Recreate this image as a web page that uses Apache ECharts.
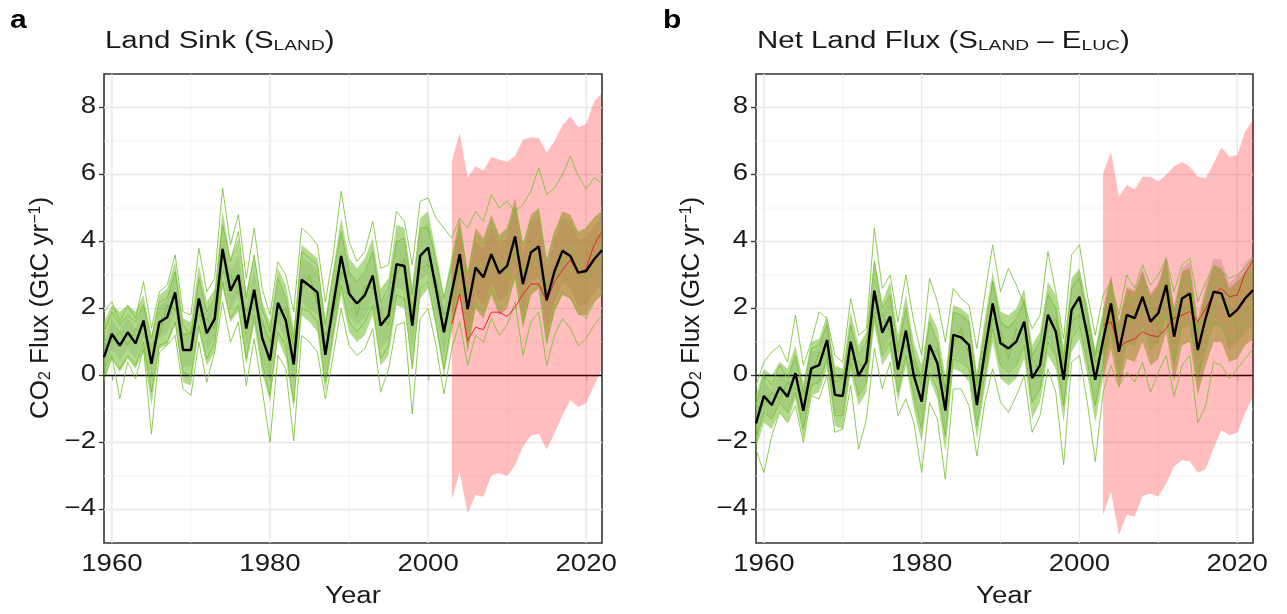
<!DOCTYPE html>
<html>
<head>
<meta charset="utf-8">
<script src="https://cdn.jsdelivr.net/npm/echarts@6.0.0/dist/echarts.min.js"></script>
<style>
  html, body { margin: 0; padding: 0; background: #fff; }
  #chart { width: 1287px; height: 614px; }
</style>
</head>
<body>
<div id="chart"></div>
<script>
// years 1959-2022
const years = Array.from({ length: 64 }, (_, i) => 1959 + i);
// period covered by the red band
const recentYears = Array.from({ length: 20 }, (_, i) => 2003 + i);

const xTicks = [1960, 1980, 2000, 2020];
const xMinor = [1970, 1990, 2010];
const yTicks = [-4, -2, 0, 2, 4, 6, 8];
const yMinor = [-3, -1, 1, 3, 5, 7];

// ---- panel a: land sink ----
const meanA = [0.55, 1.24, 0.89, 1.29, 0.96, 1.64, 0.35, 1.59, 1.74, 2.48,
  0.76, 0.76, 2.30, 1.26, 1.69, 3.78, 2.53, 3.00, 1.40, 2.56,
  1.13, 0.45, 2.17, 1.64, 0.33, 2.86, 2.68, 2.48, 0.62, 2.10,
  3.57, 2.44, 2.15, 2.40, 2.98, 1.49, 1.79, 3.32, 3.27, 1.49,
  3.57, 3.82, 2.60, 1.29, 2.50, 3.62, 1.98, 3.22, 2.93, 3.62,
  3.05, 3.27, 4.15, 2.73, 3.67, 3.85, 2.25, 3.12, 3.72, 3.57,
  3.07, 3.12, 3.47, 3.74];
const sdA = [0.45, 0.45, 0.45, 0.45, 0.45, 0.5, 0.5, 0.5, 0.5, 0.55,
  0.5, 0.5, 0.55, 0.55, 0.55, 0.65, 0.6, 0.6, 0.6, 0.6,
  0.6, 0.65, 0.6, 0.6, 0.65, 0.65, 0.7, 0.65, 0.6, 0.65,
  0.7, 0.65, 0.65, 0.65, 0.7, 0.7, 0.7, 0.7, 0.75, 0.75,
  0.75, 0.75, 0.75, 0.75, 0.8, 0.8, 0.8, 0.8, 0.85, 0.85,
  0.85, 0.85, 0.9, 0.9, 0.9, 0.9, 0.95, 0.95, 0.95, 1.0,
  1.0, 1.0, 1.0, 1.05];
const greenHiA = [1.6, 2.1, 1.9, 2.1, 1.9, 2.4, 1.2, 2.4, 2.6, 3.4,
  1.7, 1.6, 3.3, 2.2, 2.6, 4.9, 3.5, 4.1, 2.5, 3.6,
  2.2, 1.6, 3.2, 2.7, 1.4, 3.9, 3.7, 3.5, 1.7, 3.2,
  4.7, 3.5, 3.2, 3.5, 4.1, 2.6, 2.9, 4.5, 4.4, 2.7,
  4.7, 4.9, 3.7, 2.4, 3.6, 4.7, 3.1, 4.4, 4.1, 4.8,
  4.2, 4.4, 5.3, 3.9, 4.8, 5.0, 3.4, 4.3, 4.9, 4.8,
  4.3, 4.4, 4.7, 4.9];
const greenLoA = [-0.2, 0.5, 0.1, 0.5, 0.2, 0.7, -0.9, 0.8, 0.9, 1.5,
  -0.2, -0.3, 1.3, 0.3, 0.7, 2.6, 1.6, 1.9, 0.3, 1.5,
  0.1, -0.8, 1.1, 0.5, -1.0, 1.8, 1.6, 1.3, -0.5, 1.0,
  2.4, 1.3, 1.0, 1.2, 1.8, 0.3, 0.6, 2.1, 2.0, 0.2,
  2.3, 2.6, 1.4, 0.0, 1.3, 2.4, 0.7, 2.0, 1.7, 2.4,
  1.8, 2.0, 2.9, 1.4, 2.4, 2.6, 0.9, 1.9, 2.4, 2.3,
  1.8, 1.8, 2.2, 2.4];
const modelA1 = [1.9, 2.2, 1.6, 2.1, 1.7, 2.8, 1.4, 2.5, 2.7, 3.6,
  1.9, 1.8, 3.8, 2.5, 2.9, 5.6, 3.9, 4.8, 2.9, 4.4,
  2.6, 1.8, 3.4, 3.0, 1.9, 4.4, 4.2, 3.9, 2.2, 3.6,
  5.5, 4.0, 3.4, 3.7, 4.6, 3.2, 3.3, 4.9, 4.6, 3.3,
  5.2, 5.3, 4.7, 4.4, 4.1, 4.7, 4.4, 4.9, 4.6, 5.4,
  5.0, 5.2, 4.9, 5.1, 5.5, 6.2, 5.4, 5.6, 6.0, 6.55,
  5.95, 5.57, 5.9, 5.75];
const modelA2 = [0.2, 0.6, -0.7, 0.4, -0.1, 0.8, -1.75, 0.7, 0.9, 1.2,
  -0.4, -0.6, 1.0, -0.2, 0.7, 2.2, 1.0, 1.6, -0.3, 1.1,
  -0.4, -2.0, 0.6, 0.2, -1.95, 1.2, 1.0, 0.7, -0.7, 0.6,
  2.0, 0.9, 0.6, 0.8, 1.4, -0.5, 0.2, 1.5, 1.6, -1.15,
  1.7, 2.0, 0.9, -0.55, 0.8, 1.6, 0.3, 1.2, 1.0, 1.7,
  1.2, 1.5, 2.2, 0.6, 1.6, 1.9, 0.3, 1.2, 1.7, 1.4,
  0.9, 1.1, 1.5, 1.8];
const modelA3 = [1.3, 1.9, 1.5, 1.8, 1.6, 2.1, 1.1, 2.2, 2.3, 3.1,
  1.5, 1.2, 2.9, 1.9, 2.3, 4.5, 3.4, 4.3, 2.3, 3.6,
  2.0, 1.3, 2.9, 2.3, 1.1, 3.7, 3.5, 3.3, 1.5, 3.0,
  4.3, 3.1, 2.8, 3.1, 3.7, 2.2, 2.6, 4.0, 4.1, 2.4,
  4.4, 4.4, 3.4, 2.3, 3.3, 4.4, 3.0, 4.2, 3.9, 4.6,
  4.0, 4.3, 5.0, 3.9, 4.6, 4.9, 3.4, 4.3, 4.7, 4.6,
  4.2, 4.4, 4.7, 4.9];
const modelA4 = [0.0, 0.5, 0.2, 0.6, 0.3, 1.0, -0.5, 0.9, 1.0, 1.6,
  0.1, 0.0, 1.5, 0.5, 1.0, 2.8, 1.7, 2.1, 0.5, 1.8,
  0.4, -0.6, 1.3, 0.9, -0.8, 2.0, 1.9, 1.6, -0.2, 1.3,
  2.7, 1.6, 1.3, 1.6, 2.1, 0.5, 0.9, 2.4, 2.3, 0.2,
  2.6, 2.8, 1.6, 0.2, 1.6, 2.6, 0.9, 2.2, 1.9, 2.6,
  2.0, 2.2, 3.0, 1.6, 2.5, 2.7, 1.0, 2.0, 2.5, 2.3,
  1.9, 1.7, 2.2, 2.5];
const modelA5 = [0.9, 1.0, 1.3, 0.9, 1.4, 1.2, 0.9, 1.2, 2.1, 2.0,
  1.2, 1.3, 1.8, 1.7, 1.4, 3.1, 3.0, 2.5, 1.9, 2.2,
  1.6, 1.0, 1.8, 2.0, 0.9, 2.5, 3.0, 2.1, 1.2, 1.7,
  3.1, 2.7, 1.8, 2.7, 2.6, 1.9, 1.5, 3.0, 3.5, 1.9,
  3.2, 3.3, 2.9, 1.8, 2.2, 3.2, 2.5, 2.9, 3.3, 3.2,
  3.4, 2.9, 3.7, 3.1, 3.3, 3.5, 2.7, 2.8, 3.4, 3.9,
  3.4, 2.9, 3.2, 3.5];
const redHiA = [6.4, 7.24, 5.9, 6.25, 6.12, 6.52, 6.45, 6.38, 6.55, 7.04,
  7.11, 7.09, 6.65, 7.0, 7.47, 7.74, 7.41, 7.51, 8.18, 8.43];
const redLoA = [-3.7, -2.88, -4.12, -3.57, -3.62, -2.98, -2.92, -3.0, -2.68, -2.13,
  -1.79, -1.74, -2.21, -1.72, -1.19, -0.74, -0.94, -0.82, -0.3, 0.2];
const redLineA = [1.55, 2.43, 1.04, 1.44, 1.37, 1.89, 1.89, 1.76, 2.03, 2.43,
  2.73, 2.73, 2.23, 2.8, 3.15, 3.45, 3.05, 3.2, 3.9, 4.3];

// ---- panel b: net land flux ----
const meanB = [-1.43, -0.61, -0.88, -0.35, -0.63, 0.07, -1.05, 0.21, 0.31, 1.06,
  -0.58, -0.61, 1.01, -0.01, 0.41, 2.53, 1.28, 1.76, 0.18, 1.34,
  0.00, -0.78, 0.91, 0.36, -1.05, 1.21, 1.14, 0.91, -0.88, 0.70,
  2.15, 0.96, 0.81, 1.01, 1.61, -0.08, 0.31, 1.81, 1.31, -0.13,
  1.96, 2.35, 1.20, -0.13, 1.06, 2.15, 0.71, 1.81, 1.71, 2.35,
  1.61, 1.86, 2.70, 1.16, 2.30, 2.45, 0.76, 1.71, 2.50, 2.45,
  1.76, 1.96, 2.30, 2.55];
const sdB = [0.5, 0.45, 0.45, 0.45, 0.45, 0.5, 0.5, 0.5, 0.5, 0.55,
  0.55, 0.55, 0.55, 0.55, 0.55, 0.7, 0.6, 0.6, 0.6, 0.6,
  0.6, 0.65, 0.65, 0.6, 0.65, 0.65, 0.7, 0.7, 0.6, 0.65,
  0.7, 0.65, 0.65, 0.65, 0.7, 0.7, 0.7, 0.7, 0.75, 0.75,
  0.75, 0.75, 0.75, 0.75, 0.8, 0.8, 0.8, 0.85, 0.85, 0.85,
  0.85, 0.9, 0.9, 0.9, 0.9, 0.95, 0.95, 1.0, 1.0, 1.0,
  1.0, 1.0, 1.05, 1.05];
const greenHiB = [-0.6, 0.2, 0.0, 0.4, 0.2, 0.9, -0.2, 1.0, 1.1, 1.8,
  0.3, 0.2, 1.9, 0.9, 1.3, 3.5, 2.2, 2.8, 1.2, 2.4,
  1.0, 0.3, 1.9, 1.4, 0.0, 2.1, 2.0, 1.8, 0.1, 1.7,
  3.1, 1.9, 1.8, 2.0, 2.6, 0.9, 1.3, 2.8, 2.4, 0.9,
  2.9, 3.2, 2.1, 0.8, 2.0, 3.0, 1.6, 2.6, 2.5, 3.1,
  2.4, 2.7, 3.5, 2.0, 3.1, 3.2, 1.6, 2.5, 3.3, 3.2,
  2.6, 2.8, 3.1, 3.4];
const greenLoB = [-2.2, -1.4, -1.6, -1.1, -1.4, -0.7, -1.9, -0.6, -0.5, 0.2,
  -1.5, -1.6, 0.1, -0.9, -0.5, 1.5, 0.3, 0.7, -0.8, 0.3,
  -1.0, -2.0, -0.1, -0.7, -2.3, 0.2, 0.1, -0.2, -1.9, -0.4,
  1.0, -0.1, -0.3, -0.1, 0.5, -1.3, -0.8, 0.6, 0.2, -1.4,
  0.7, 1.1, 0.0, -1.4, -0.1, 0.8, -0.4, 0.5, 0.4, 1.0,
  0.3, 0.5, 1.3, -0.2, 0.9, 1.0, -0.6, 0.3, 1.0, 1.0,
  0.4, 0.5, 0.9, 1.1];
const modelB1 = [-0.3, 0.4, 0.7, 0.9, 0.4, 1.8, 0.3, 1.0, 1.9, 1.7,
  0.6, 0.4, 2.3, 1.2, 1.4, 4.4, 2.6, 3.0, 1.6, 3.0,
  1.6, 0.6, 2.9, 2.2, 1.0, 2.6, 2.3, 2.1, 0.8, 2.4,
  3.9, 2.5, 3.2, 2.7, 2.1, 1.4, 1.8, 3.7, 2.5, 1.1,
  3.6, 3.9, 2.4, 1.2, 2.4, 2.8, 1.8, 3.0, 2.6, 3.3,
  2.7, 3.0, 3.5, 2.5, 3.3, 3.5, 2.2, 2.8, 3.2, 3.1,
  2.9, 3.0, 3.2, 3.5];
const modelB2 = [-2.2, -2.9, -1.8, -1.1, -1.4, -0.9, -2.0, -0.6, -0.7, 0.0,
  -1.7, -1.6, -0.3, -2.2, -1.3, 0.8, -0.4, 0.4, -1.2, -0.7,
  -1.4, -2.9, -0.8, -1.3, -3.1, -0.4, -0.4, -0.9, -2.4, -0.8,
  0.2, -0.8, -1.1, -0.6, 0.0, -1.7, -1.2, 0.2, -0.5, -2.67,
  0.4, 0.6, -0.8, -2.57, -0.5, 0.3, -0.33, 0.1, -0.2, 0.4,
  -0.5, 0.1, 0.6, -0.63, 0.3, 0.6, -1.42, -0.9, 0.4, 0.3,
  -0.1, 0.2, 0.5, 0.8];
const modelB3 = [-0.9, 0.0, -0.3, 0.3, -0.1, 0.6, -0.5, 0.8, 0.9, 1.5,
  0.0, -0.1, 1.5, 0.6, 1.0, 3.4, 2.0, 2.4, 0.8, 2.0,
  0.6, -0.1, 1.6, 1.0, -0.4, 1.9, 1.8, 1.6, -0.2, 1.3,
  2.8, 1.6, 1.4, 1.7, 2.2, 0.6, 1.0, 2.4, 2.0, 0.5,
  2.6, 2.9, 1.8, 0.6, 1.7, 2.6, 1.3, 2.3, 2.2, 2.8,
  2.1, 2.4, 3.1, 1.7, 2.8, 2.9, 1.3, 2.2, 2.9, 2.8,
  2.3, 2.5, 2.8, 3.1];
const modelB4 = [-1.9, -1.1, -1.3, -0.8, -1.1, -0.5, -1.6, -0.3, -0.2, 0.5,
  -1.2, -1.2, 0.4, -0.6, -0.2, 1.8, 0.6, 1.0, -0.5, 0.6,
  -0.6, -1.6, 0.1, -0.4, -1.8, 0.5, 0.4, 0.2, -1.5, 0.0,
  1.4, 0.3, 0.1, 0.3, 0.9, -0.8, -0.4, 1.0, 0.6, -0.9,
  1.1, 1.5, 0.4, -0.9, 0.3, 1.3, 0.0, 1.0, 0.9, 1.5,
  0.8, 1.1, 1.8, 0.4, 1.5, 1.6, 0.0, 0.9, 1.6, 1.5,
  1.0, 1.2, 1.5, 1.8];
const modelB5 = [-1.0, -0.9, -0.5, -0.7, -0.2, -0.4, -0.6, 0.0, 0.7, 0.6,
  -0.2, -0.1, 0.5, 0.4, 0.1, 1.9, 1.8, 1.3, 0.7, 0.9,
  0.4, -0.3, 0.5, 0.8, -0.5, 0.9, 1.4, 0.6, -0.3, 0.3,
  1.7, 1.3, 0.5, 1.4, 1.2, 0.5, 0.1, 1.5, 1.7, 0.3,
  1.6, 1.8, 1.5, 0.4, 0.7, 1.7, 1.2, 1.4, 2.0, 1.9,
  2.0, 1.5, 2.3, 1.6, 1.9, 2.1, 1.2, 1.3, 2.0, 2.4,
  2.0, 1.5, 1.9, 2.2];
const redHiB = [6.04, 6.68, 5.34, 5.69, 5.56, 5.93, 5.93, 5.79, 5.99, 6.25,
  6.38, 6.23, 5.93, 5.89, 6.33, 6.81, 6.53, 6.58, 7.28, 7.63];
const redLoB = [-4.16, -3.47, -4.76, -4.16, -4.21, -3.6, -3.52, -3.62, -3.22, -2.72,
  -2.52, -2.57, -2.9, -2.8, -2.17, -1.63, -1.78, -1.71, -1.13, -0.63];
const redLineB = [1.5, 1.6, 0.86, 1.0, 1.1, 1.3, 1.2, 1.16, 1.41, 1.71,
  1.8, 1.91, 1.61, 2.0, 2.45, 2.6, 2.35, 2.4, 3.05, 3.45];

const FONT = 'Liberation Sans';
const TXT = '#1a1a1a';
const SX = 1.2; // the source figure's text is drawn wider than the font's own metrics
const Y_MIN = -5, Y_MAX = 9, X_MIN = 1959, X_MAX = 2022;

const GREEN_LINE = 'rgba(118,190,48,0.9)';
const GREEN_FILL = 'rgba(122,192,58,0.58)';
const GRAY_FILL = 'rgba(150,150,150,0.3)';
const PINK_FILL = 'rgba(255,0,0,0.26)';
const RED_LINE = '#e3262b';

// background grid lines (theme_bw style)
function gridLines(i) {
  return {
    type: 'custom', xAxisIndex: i, yAxisIndex: i, silent: true,
    data: [[X_MIN, 0]],
    renderItem(params, api) {
      const kids = [];
      const seg = (a, b, w, c) => kids.push({
        type: 'line', shape: { x1: a[0], y1: a[1], x2: b[0], y2: b[1] },
        style: { stroke: c, lineWidth: w }
      });
      xMinor.forEach(v => seg(api.coord([v, Y_MIN]), api.coord([v, Y_MAX]), 0.8, '#f1f1f1'));
      yMinor.forEach(v => seg(api.coord([X_MIN, v]), api.coord([X_MAX, v]), 0.8, '#f1f1f1'));
      xTicks.forEach(v => seg(api.coord([v, Y_MIN]), api.coord([v, Y_MAX]), 1.4, '#e8e8e8'));
      yTicks.forEach(v => seg(api.coord([X_MIN, v]), api.coord([X_MAX, v]), 1.4, '#e8e8e8'));
      return { type: 'group', children: kids };
    }
  };
}

// tick labels, placed through the axes' own scales
function tickLabels(i) {
  const fmt = v => (v < 0 ? '\u2212' + Math.abs(v) : String(v));
  const txt = (x, y, s, align, va) => ({
    type: 'text', x: x, y: y, scaleX: SX,
    style: { text: s, x: 0, y: 0, fontSize: 23, fontFamily: FONT, fill: TXT,
      align: align, verticalAlign: va, textAlign: align, textVerticalAlign: va }
  });
  return {
    type: 'custom', xAxisIndex: i, yAxisIndex: i, silent: true, clip: false,
    data: [[X_MIN, 0]],
    renderItem(params, api) {
      const kids = [];
      xTicks.forEach(v => { const p = api.coord([v, Y_MIN]); kids.push(txt(p[0], p[1] + 10, String(v), 'center', 'top')); });
      yTicks.forEach(v => { const p = api.coord([X_MIN, v]); kids.push(txt(p[0] - 8, p[1] - 1, fmt(v), 'right', 'middle')); });
      return { type: 'group', children: kids };
    }
  };
}

function zeroLine(i) {
  return {
    type: 'custom', xAxisIndex: i, yAxisIndex: i, silent: true,
    data: [[X_MIN, 0]],
    renderItem(params, api) {
      const a = api.coord([X_MIN, 0]), b = api.coord([X_MAX, 0]);
      return { type: 'line', shape: { x1: a[0], y1: a[1], x2: b[0], y2: b[1] },
        style: { stroke: '#000', lineWidth: 1.6 } };
    }
  };
}

function band(i, xs, lo, hi, fill) {
  return {
    type: 'custom', xAxisIndex: i, yAxisIndex: i, silent: true,
    data: [[xs[0], lo[0]]],
    renderItem(params, api) {
      const top = xs.map((x, k) => api.coord([x, hi[k]]));
      const bot = xs.map((x, k) => api.coord([x, lo[k]])).reverse();
      return { type: 'polygon', shape: { points: top.concat(bot) }, style: { fill: fill } };
    }
  };
}

function line(i, xs, ys, color, width) {
  return {
    type: 'line', xAxisIndex: i, yAxisIndex: i, silent: true,
    data: xs.map((x, k) => [x, ys[k]]),
    symbol: 'none', showSymbol: false,
    lineStyle: { color: color, width: width },
    emphasis: { disabled: true }
  };
}

function panelSeries(i, mean, sd, gLo, gHi, models, rLo, rHi, rLine) {
  const sdLo = mean.map((v, k) => v - sd[k]);
  const sdHi = mean.map((v, k) => v + sd[k]);
  return [
    gridLines(i),
    band(i, years, sdLo, sdHi, GRAY_FILL),
    band(i, years, gLo, gHi, GREEN_FILL),
    ...models.map(m => line(i, years, m, GREEN_LINE, 0.9)),
    zeroLine(i),
    band(i, recentYears, rLo, rHi, PINK_FILL),
    line(i, recentYears, rLine, RED_LINE, 1),
    line(i, years, mean, '#000', 2.4),
    tickLabels(i)
  ];
}

function xAxis(i) {
  return {
    gridIndex: i, type: 'value', min: X_MIN, max: X_MAX,
    axisLine: { show: false },
    axisTick: { show: true, customValues: xTicks, length: 5, lineStyle: { color: '#333', width: 1.3 } },
    axisLabel: { show: false },
    splitLine: { show: false }
  };
}

function yAxis(i) {
  return {
    gridIndex: i, type: 'value', min: Y_MIN, max: Y_MAX,
    axisLine: { show: false },
    axisTick: { show: true, customValues: yTicks, length: 5, lineStyle: { color: '#333', width: 1.3 } },
    axisLabel: { show: false },
    splitLine: { show: false }
  };
}

// titles and axis names
const subRich = {
  m: { fontSize: 23, fontFamily: FONT, fill: TXT, lineHeight: 23, verticalAlign: 'middle' },
  sub: { fontSize: 15, fontFamily: FONT, fill: TXT, lineHeight: 15, verticalAlign: 'bottom', padding: [11, 0, 0, 0] }
};
const nameRich = {
  sub: { fontSize: 16, fontFamily: FONT, fill: TXT, verticalAlign: 'bottom' },
  sup: { fontSize: 16, fontFamily: FONT, fill: TXT, verticalAlign: 'top' }
};
function label(x, y, opts) {
  return Object.assign({ type: 'text', x: x, y: y, scaleX: SX, silent: true }, opts);
}

const option = {
  animation: false,
  backgroundColor: '#fff',
  grid: [
    { left: 104, top: 74, width: 498, height: 469, show: true, borderColor: '#333', borderWidth: 1.6, backgroundColor: 'transparent' },
    { left: 756, top: 74, width: 497, height: 469, show: true, borderColor: '#333', borderWidth: 1.6, backgroundColor: 'transparent' }
  ],
  xAxis: [xAxis(0), xAxis(1)],
  yAxis: [yAxis(0), yAxis(1)],
  graphic: [
    label(10, 21, { style: { text: 'a', fontSize: 25, fontWeight: 'bold', fontFamily: FONT, fill: '#000', verticalAlign: 'middle' } }),
    label(663, 21, { style: { text: 'b', fontSize: 25, fontWeight: 'bold', fontFamily: FONT, fill: '#000', verticalAlign: 'middle' } }),
    label(105, 42, { scaleX: 1.28, style: { text: '{m|Land Sink (S}{sub|LAND}{m|)}', rich: subRich,
      fontSize: 23, fontFamily: FONT, fill: TXT, verticalAlign: 'middle' } }),
    label(757, 42, { scaleX: 1.28, style: { text: '{m|Net Land Flux (S}{sub|LAND}{m| \u2013 E}{sub|LUC}{m|)}', rich: subRich,
      fontSize: 23, fontFamily: FONT, fill: TXT, verticalAlign: 'middle' } }),
    label(353, 597, { style: { text: 'Year', fontSize: 23, fontFamily: FONT, fill: TXT, align: 'center', verticalAlign: 'middle' } }),
    label(1004, 597, { style: { text: 'Year', fontSize: 23, fontFamily: FONT, fill: TXT, align: 'center', verticalAlign: 'middle' } }),
    label(41, 308, { rotation: Math.PI / 2, scaleX: 1, scaleY: 1,
      style: { text: 'CO{sub|2} Flux (GtC yr{sup|\u22121})', rich: nameRich, fontSize: 26, fontFamily: FONT, fill: TXT,
        align: 'center', verticalAlign: 'middle' } }),
    label(692, 308, { rotation: Math.PI / 2, scaleX: 1, scaleY: 1,
      style: { text: 'CO{sub|2} Flux (GtC yr{sup|\u22121})', rich: nameRich, fontSize: 26, fontFamily: FONT, fill: TXT,
        align: 'center', verticalAlign: 'middle' } })
  ],
  series: [
    ...panelSeries(0, meanA, sdA, greenLoA, greenHiA, [modelA1, modelA2, modelA3, modelA4, modelA5], redLoA, redHiA, redLineA),
    ...panelSeries(1, meanB, sdB, greenLoB, greenHiB, [modelB1, modelB2, modelB3, modelB4, modelB5], redLoB, redHiB, redLineB)
  ]
};

const chart = echarts.init(document.getElementById('chart'), null, { renderer: 'canvas' });
chart.setOption(option);
</script>
</body>
</html>
